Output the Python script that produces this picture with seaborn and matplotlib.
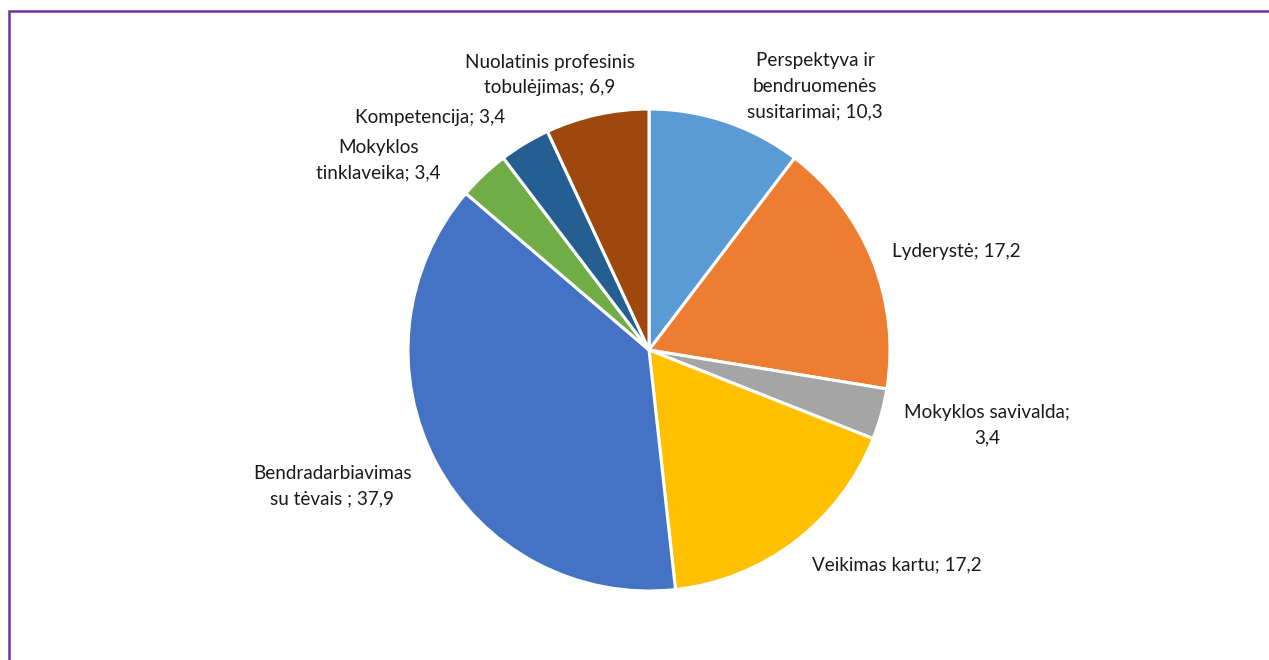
import matplotlib

matplotlib.use("Agg")
import matplotlib.pyplot as plt
import numpy as np
import seaborn as sns
from matplotlib.patches import Rectangle

# data, clockwise from the top
categories = [
    "Perspektyva ir\nbendruomenės\nsusitarimai",
    "Lyderystė",
    "Mokyklos savivalda",
    "Veikimas kartu",
    "Bendradarbiavimas\nsu tėvais ",
    "Mokyklos\ntinklaveika",
    "Kompetencija",
    "Nuolatinis profesinis\ntobulėjimas",
]
values = [10.3, 17.2, 3.4, 17.2, 37.9, 3.4, 3.4, 6.9]
label_templates = [
    "{c}; {v}",
    "{c}; {v}",
    "{c};\n{v}",
    "{c}; {v}",
    "{c}; {v}",
    "{c}; {v}",
    "{c}; {v}",
    "{c}; {v}",
]
colors = ["#5B9BD5", "#ED7D31", "#A5A5A5", "#FFC000",
          "#4472C4", "#70AD47", "#255E91", "#9E480E"]

# label centres in units of the pie radius (Excel "best fit" placement)
label_pos = [
    (0.689, 1.095),
    (1.274, 0.407),
    (1.402, -0.311),
    (1.029, -0.892),
    (-1.315, -0.564),
    (-1.124, 0.788),
    (-0.909, 0.963),
    (-0.411, 1.141),
]

W, H = 1269, 660
cx, cy, R = 649, 350, 241

sns.set_theme(style="white")
plt.rcParams["font.family"] = ["Lato", "DejaVu Sans"]

fig = plt.figure(figsize=(W / 100, H / 100), dpi=100)
ax = fig.add_axes([0, 0, 1, 1])
ax.set_axis_off()

ax.pie(
    values,
    colors=colors,
    startangle=90,
    counterclock=False,
    radius=1,
    wedgeprops={"edgecolor": "white", "linewidth": 2.2},
)
ax.set_xlim(-cx / R, (W - cx) / R)
ax.set_ylim(-(H - cy) / R, cy / R)
ax.set_aspect("auto")


def fmt(v):
    return f"{v:.1f}".replace(".", ",")


for cat, v, tpl, (lx, ly) in zip(categories, values, label_templates, label_pos):
    ax.text(lx, ly, tpl.format(c=cat, v=fmt(v)), ha="center", va="center",
            fontsize=13.6, color="#1a1a1a", linespacing=1.6)

fig.patches.append(Rectangle((8.5 / W, -0.1), 2, 1.1 - 11.5 / H,
                             transform=fig.transFigure, fill=False,
                             edgecolor="#7030A0", linewidth=1.8))

fig.savefig("out.png", dpi=100, facecolor="white")
